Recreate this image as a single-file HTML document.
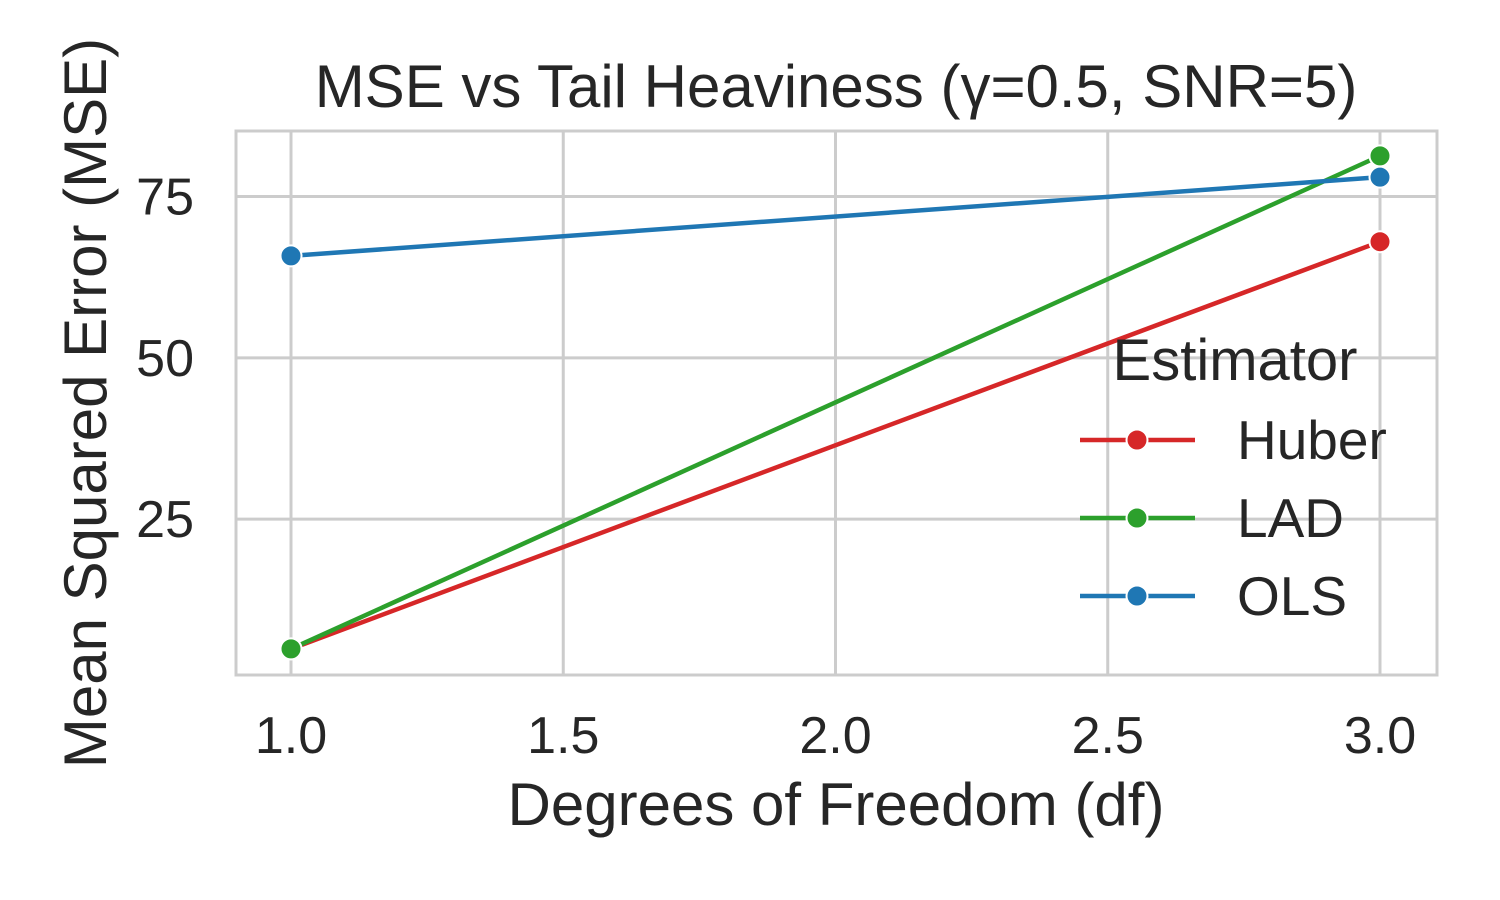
<!DOCTYPE html>
<html><head><meta charset="utf-8"><style>
html,body{margin:0;padding:0;background:#fff;}
svg{display:block;font-family:"Liberation Sans",Arial,sans-serif;}
</style></head><body>
<svg id="chart" width="1500" height="900" viewBox="0 0 1500 900">
<rect width="1500" height="900" fill="#fff"/>
<g id="grid"></g>
<rect x="236" y="131" width="1201" height="544" fill="none" stroke="#cccccc" stroke-width="3"/>
<g id="series"></g>
<g id="ticks" fill="#262626" font-size="52"></g>
<text x="836" y="107" text-anchor="middle" font-size="60" fill="#262626">MSE vs Tail Heaviness (γ=0.5, SNR=5)</text>
<text x="836" y="825" text-anchor="middle" font-size="60" fill="#262626">Degrees of Freedom (df)</text>
<text transform="translate(106,403) rotate(-90)" text-anchor="middle" font-size="60" fill="#262626">Mean Squared Error (MSE)</text>
<g id="legend">
<text x="1235" y="380" text-anchor="middle" font-size="58" fill="#262626">Estimator</text>
</g>
</svg>
<script>
const xValues = [1.0, 3.0];
const seriesNames = ["Huber", "LAD", "OLS"];
const huberValues = [4.9, 68.0];
const ladValues = [4.9, 81.3];
const olsValues = [65.8, 78.0];
const xTicks = [1.0, 1.5, 2.0, 2.5, 3.0];
const yTicks = [25, 50, 75];

const colors = {Huber:"#d62728", LAD:"#2ca02c", OLS:"#1f77b4"};
const valuesByName = {Huber:huberValues, LAD:ladValues, OLS:olsValues};
const NS = "http://www.w3.org/2000/svg";
function xs(v){ return 291 + (v - 1.0) * 544.5; }
function ys(v){ return 680.5 - v * 6.453; }
function mk(tag, attrs, parent){ const e=document.createElementNS(NS,tag); for(const k in attrs) e.setAttribute(k,attrs[k]); parent.appendChild(e); return e; }

const grid=document.getElementById('grid'), ticks=document.getElementById('ticks');
xTicks.forEach(t=>{
  const l=mk('line',{x1:xs(t),x2:xs(t),y1:131,y2:675,stroke:'#cccccc','stroke-width':3},grid);
  
  
  const tx=mk('text',{x:xs(t),y:753,'text-anchor':'middle'},ticks);
  tx.textContent=t.toFixed(1);
  
  
});
yTicks.forEach(t=>{
  const l=mk('line',{x1:236,x2:1437,y1:ys(t),y2:ys(t),stroke:'#cccccc','stroke-width':3},grid);
  
  
  const tx=mk('text',{x:194,y:ys(t)+18,'text-anchor':'end'},ticks);
  tx.textContent=String(t);
  
  
});

const series=document.getElementById('series');
seriesNames.forEach(name=>{
  const vals=valuesByName[name], c=colors[name];
  const pts=vals.map((v,i)=>xs(xValues[i])+','+ys(v)).join(' ');
  const pl=mk('polyline',{points:pts,fill:'none',stroke:c,'stroke-width':4.5},series);
  
  
  vals.forEach((v,i)=>{
    const ci=mk('circle',{cx:xs(xValues[i]),cy:ys(v),r:10.5,fill:c,stroke:'#fff','stroke-width':2},series);
    
    
  });
});

const legend=document.getElementById('legend');
seriesNames.forEach((name,i)=>{
  const y=440+i*78, c=colors[name];
  const g=mk('g',{},legend);
  
  
  mk('line',{x1:1080,x2:1195,y1:y,y2:y,stroke:c,'stroke-width':4.5},g);
  mk('circle',{cx:1137,cy:y,r:10.5,fill:c,stroke:'#fff','stroke-width':2},g);
  const t=mk('text',{x:1237,y:y+19,'font-size':55,fill:'#262626'},g);
  t.textContent=name;
});
</script>
</body></html>
